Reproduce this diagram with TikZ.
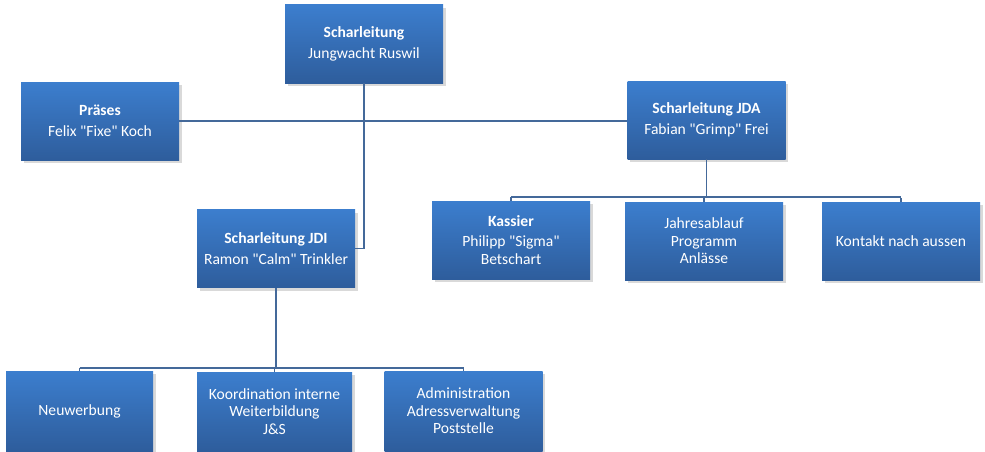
\documentclass[tikz,border=0pt]{standalone}
\usepackage{fontspec}
\setmainfont{Carlito}
\usetikzlibrary{shadows}
\definecolor{boxtop}{HTML}{3C7ECE}
\definecolor{boxbot}{HTML}{2E5D9C}
\definecolor{linkblue}{HTML}{44699A}
\def\orgtitle#1#2{\textbf{#1}\\[3pt]#2}
\def\q{\textquotedbl}
\tikzset{
	orgbox/.style={rectangle, top color=boxtop, bottom color=boxbot, text=white, align=center,
		minimum width=158pt, minimum height=78pt, inner sep=2pt,
		font=\fontsize{15.6}{17.5}\selectfont,
		drop shadow={shadow xshift=2.5pt, shadow yshift=-3pt, opacity=0.3}},
	link/.style={line width=1.6pt, color=linkblue},
}

\begin{document}
\begin{tikzpicture}[x=1pt, y=-1pt]
			%%%%% START %%%%%
			
			\useasboundingbox (0, 0) rectangle (985, 452);
			
			\node[orgbox] (top) at (364, 44) {\orgtitle{Scharleitung}{Jungwacht Ruswil}};
			\node[orgbox] (praeses) at (100, 121) {\orgtitle{Präses}{Felix \q Fixe\q{} Koch}};
			\node[orgbox] (jda) at (706.5, 120) {\orgtitle{Scharleitung JDA}{Fabian \q Grimp\q{} Frei}};
			\node[orgbox] (jdi) at (276, 248.5) {\orgtitle{Scharleitung JDI}{Ramon \q Calm\q{} Trinkler}};
			
			\node[orgbox] (kassier) at (511, 240) {\orgtitle{Kassier}{Philipp \q Sigma\q\\Betschart}};
			\node[orgbox] (jahr) at (704, 241) {Jahresablauf\\Programm\\Anlässe};
			\node[orgbox] (kontakt) at (901, 241) {Kontakt nach aussen};
			
			\node[orgbox, minimum width=147pt, minimum height=80pt] (neu) at (79.5, 411) {Neuwerbung};
			\node[orgbox, minimum width=155pt, minimum height=79pt] (koord) at (274.5, 411.5) {Koordination interne\\Weiterbildung\\J\&S};
			\node[orgbox, minimum height=80pt] (admin) at (463.5, 411) {Administration\\Adressverwaltung\\Poststelle};
			
			\draw[link] (top.south) -- (top.south |- jdi.east) -- (jdi.east);
			\draw[link] (praeses.east) -- (praeses.east -| jda.west);
			
			\draw[link] (jda.south) -- ([yshift=4pt]jda.south |- kassier.north);
			\draw[link] ([yshift=4pt]kassier.north) -- ([yshift=4pt]kassier.north -| kontakt.north);
			\foreach \n in {kassier, jahr, kontakt}
				\draw[link] ([yshift=4pt]\n.north) -- (\n.north);
			
			\draw[link] (jdi.south) -- ([yshift=4pt]jdi.south |- koord.north);
			\draw[link] ([yshift=4pt]neu.north |- koord.north) -- ([yshift=4pt]admin.north |- koord.north);
			\foreach \n in {neu, koord, admin}
				\draw[link] ([yshift=4pt]\n.north |- koord.north) -- (\n.north);
			
			%%%%% END %%%%%
		\end{tikzpicture}
\end{document}
